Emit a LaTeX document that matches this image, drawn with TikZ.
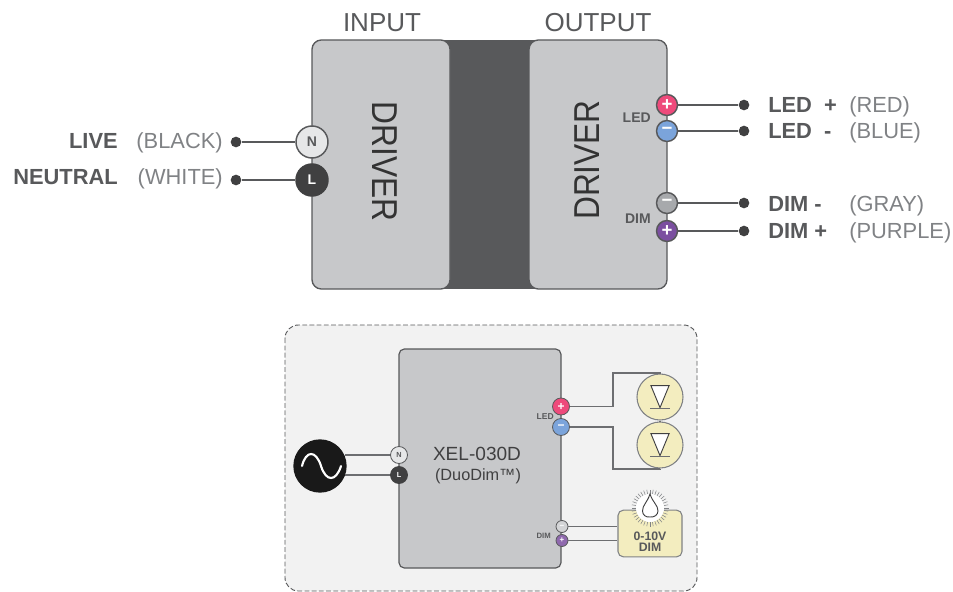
\documentclass[tikz,border=0pt]{standalone}
\usepackage{fontspec}
\setmainfont{Liberation Sans}
\usetikzlibrary{positioning}
\definecolor{drivergray}{HTML}{C7C8CA}
\definecolor{banddark}{HTML}{58595B}
\definecolor{linkgray}{HTML}{6D6E71}
\definecolor{softgray}{HTML}{808285}
\definecolor{panelgray}{HTML}{F2F2F2}
\definecolor{portwhite}{HTML}{E6E7E8}
\definecolor{portblack}{HTML}{404041}
\definecolor{portred}{HTML}{EE4A7B}
\definecolor{portblue}{HTML}{7BA4DB}
\definecolor{portgray}{HTML}{A7A9AC}
\definecolor{portpurple}{HTML}{7B4FA0}
\definecolor{lampyellow}{HTML}{F3EDBF}
\tikzset{
  driver/.style={draw=banddark, fill=drivergray, line width=1pt, rounded corners=7pt,
                 minimum width=103.5pt, minimum height=186.75pt},
  port/.style={circle, draw=banddark, line width=1.1pt, inner sep=0pt, minimum size=#1,
               font=\fontsize{10.5}{10.5}\selectfont\bfseries},
  sign/.style={port=15.75pt, text=white, font=\fontsize{14}{14}\selectfont\bfseries},
  tinyport/.style={circle, draw=banddark, line width=.6pt, inner sep=0pt, minimum size=#1,
               font=\fontsize{5.5}{5.5}\selectfont\bfseries},
  tinysign/.style={tinyport=#1, text=white, font=\fontsize{9}{9}\selectfont\bfseries},
  wire/.style={draw=banddark, line width=1.4pt},
  thinwire/.style={draw=linkgray, line width=1pt},
  dot/.style={circle, fill=portblack, inner sep=0pt, minimum size=8pt},
  wirenamel/.style={anchor=base east, inner sep=0pt, text=banddark, font=\fontsize{16.4}{16.4}\selectfont\bfseries},
  wirenamer/.style={anchor=base west, inner sep=0pt, text=banddark, font=\fontsize{16.4}{16.4}\selectfont\bfseries},
  tint/.style={anchor=base west, inner sep=0pt, text=softgray, font=\fontsize{16.4}{16.4}\selectfont},
  head/.style={text=banddark, font=\fontsize{19.5}{19.5}\selectfont},
  tag/.style={text=banddark, anchor=east, inner sep=0pt, font=\fontsize{10.5}{10.5}\selectfont\bfseries},
  lamp/.style={circle, draw=softgray, fill=lampyellow, line width=.8pt, inner sep=0pt, minimum size=34.5pt},
}
\begin{document}
\begin{tikzpicture}[x=.75pt, y=-.75pt]
    \useasboundingbox (0,0) rectangle (953,592);

    \fill [banddark] (440,40) rectangle (540,289);
    \node [driver] (input) at (381,164.5) {};
    \node [driver] (output) at (598,164.5) {};
    \node [head] (inputlabel) at (382,23) {INPUT};
    \node [head] (outputlabel) at (598,23) {OUTPUT};
    \node [rotate=-90, xscale=.88, text=black!80, font=\fontsize{27}{27}\selectfont] (driverin) at (385,161.5) {DRIVER};
    \node [rotate=90, xscale=.88, text=black!80, font=\fontsize{27}{27}\selectfont] (driverout) at (587,160) {DRIVER};

    \node [port=24pt, fill=portwhite, text=banddark] (portn) at (312,142) {N};
    \node [port=24pt, fill=portblack, draw=portblack, text=white] (portl) at (312,180) {L};
    \node [dot] (dotlive) at (236,142) {};
    \node [dot] (dotneutral) at (236,180) {};
    \draw [wire] (dotlive) -- (portn);
    \draw [wire] (dotneutral) -- (portl);
    \node [wirenamel] (live) at (118,148) {LIVE};
    \node [wirenamel] (neutral) at (118,184) {NEUTRAL};
    \node [tint, anchor=base east] (black) at (223,148) {(BLACK)};
    \node [tint, anchor=base east] (white) at (223,184) {(WHITE)};

    \node [sign, fill=portred] (portledp) at (667,105) {+};
    \node [sign, fill=portblue] (portledm) at (667,131) {\textminus};
    \node [sign, fill=portgray] (portdimm) at (667,203) {\textminus};
    \node [sign, fill=portpurple] (portdimp) at (667,231) {+};
    \node [tag] (ledtag) at (651,118) {LED};
    \node [tag] (dimtag) at (651,219) {DIM};
    \foreach \pname/\dotname/\y in {portledp/dotledp/105, portledm/dotledm/131, portdimm/dotdimm/203, portdimp/dotdimp/231} {
      \node [dot] (\dotname) at (744,\y) {};
      \draw [wire] (\pname) -- (\dotname);
    }
    \node [wirenamer] (ledp) at (768,112.5) {LED\hspace{.55em}+};
    \node [wirenamer] (ledm) at (768,138.5) {LED\hspace{.55em}-};
    \node [wirenamer] (dimm) at (768,211) {DIM -};
    \node [wirenamer] (dimp) at (768,238) {DIM +};
    \node [tint] (red) at (849,112.5) {(RED)};
    \node [tint] (blue) at (849,138.5) {(BLUE)};
    \node [tint] (gray) at (849,211) {(GRAY)};
    \node [tint] (purple) at (849,238) {(PURPLE)};

    \draw [fill=panelgray, draw=banddark, dash pattern=on 3.6pt off 1.8pt, line width=.7pt, rounded corners=10pt] (285,325) rectangle (697,591);
    \node [driver, line width=.9pt, rounded corners=4pt, minimum width=121.5pt, minimum height=164.25pt] (xel) at (480,458.5) {};
    \node [text=portblack, font=\fontsize{14.3}{14.3}\selectfont, anchor=base] (xelname) at (477,460) {XEL-030D};
    \node [text=portblack, font=\fontsize{12.2}{12.2}\selectfont, anchor=base] (duodim) at (478,480) {(DuoDim™)};

    \node [circle, fill=black!90, inner sep=0pt, minimum size=40pt] (ac) at (320,466) {};
    \draw [white, line width=1.6pt, line cap=round] (302,466) .. controls (306,450) and (316,450) .. (321,466)
          .. controls (326,482) and (336,482) .. (341,466);
    \node [tinyport=12.75pt, fill=portwhite, text=banddark] (tinyn) at (399,455) {N};
    \node [tinyport=12.75pt, fill=portblack, draw=portblack, text=white] (tinyl) at (399,475) {L};
    \draw [thinwire] (tinyn) -- (tinyn -| ac.24);
    \draw [thinwire] (tinyl) -- (tinyl -| ac.-20);

    \node [lamp] (lampa) at (660,397) {};
    \node [lamp] (lampb) at (660,445) {};
    \node [tinysign=12.75pt, fill=portred] (tinyledp) at (561,406.5) {+};
    \node [tinysign=12.75pt, fill=portblue] (tinyledm) at (561,427) {\textminus};
    \node [tag, font=\fontsize{6.4}{6.4}\selectfont\bfseries] (tinyledtag) at (554,416.5) {LED};
    \coordinate (bendtop) at (613,373);
    \coordinate (bendbot) at (613,469);
    \draw [thinwire] (tinyledp) -| (bendtop) -| (lampa.north);
    \draw [thinwire] (tinyledm) -| (bendbot) -| (lampb.south);
    \draw [thinwire] (lampa) -- (lampb);
    \foreach \lname in {lampa, lampb} {
      \draw [fill=white, draw=portblack, line width=.7pt] ([xshift=-6.8pt,yshift=8.5pt]\lname.center) -- ([xshift=6.8pt,yshift=8.5pt]\lname.center) -- ([yshift=-8pt]\lname.center) -- cycle;
      \draw [draw=linkgray, line width=1.1pt] ([xshift=-7.2pt,yshift=-8.8pt]\lname.center) -- ([xshift=7.2pt,yshift=-8.8pt]\lname.center);
    }

    \node [tinysign=9pt, fill=portwhite!70!portgray, font=\fontsize{6}{6}\selectfont\bfseries] (tinydimm) at (562,526.5) {\textminus};
    \node [tinysign=9pt, fill=portpurple!85!white, font=\fontsize{6}{6}\selectfont\bfseries] (tinydimp) at (562,540.5) {+};
    \node [tag, font=\fontsize{5.8}{5.8}\selectfont\bfseries] (tinydimtag) at (551,536) {DIM};
    \node [draw=softgray, fill=lampyellow, line width=.8pt, rounded corners=4pt, inner sep=0pt, minimum width=48pt, minimum height=35pt] (dimmer) at (650,533.5) {};
    \draw [thinwire] (tinydimm) -- (tinydimm -| dimmer.west);
    \draw [thinwire] (tinydimp) -- (tinydimp -| dimmer.west);
    \node [text=banddark, align=center, inner sep=0pt, font=\fontsize{9.2}{8}\selectfont\bfseries] (dimmertext) at (650,541.5) {0-10V\\DIM};
    \foreach \a in {0,10,...,350} {
      \draw [softgray, line width=.4pt] (650,508) ++(\a:14) -- ++(\a:4.5);
    }
    \node [circle, fill=white, inner sep=0pt, minimum size=21pt] (knob) at (650,508) {};
    \draw [fill=white, draw=portblack, line width=.7pt] (650,494) .. controls (653,503) and (658,505) .. (658,511)
          .. controls (658,515) and (654,517.5) .. (650,517) .. controls (646,517.5) and (642.5,515) .. (642.5,511)
          .. controls (642.5,505) and (647,503) .. (650,494) -- cycle;
  \end{tikzpicture}
\end{document}
